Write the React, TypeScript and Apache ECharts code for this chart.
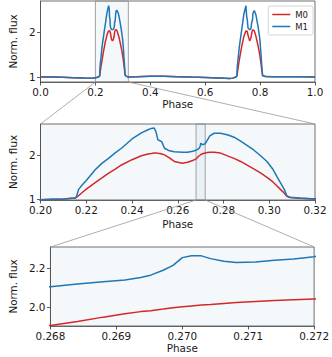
import React, { useEffect, useRef } from "react";
import * as echarts from "echarts";

// Phase grid (shared by both models) and normalised flux of each model
const phase = [
  0.0, 0.04, 0.08, 0.12, 0.16, 0.19, 0.2, 0.205, 0.21, 0.2152,
  0.2158, 0.2166, 0.2181, 0.22, 0.2239, 0.2267, 0.23, 0.2325, 0.2354, 0.24,
  0.2441, 0.247, 0.2484, 0.2497, 0.2505, 0.2513, 0.2522, 0.253, 0.2542, 0.256,
  0.2585, 0.262, 0.2643, 0.2665, 0.268, 0.26841, 0.2688, 0.26913, 0.26937, 0.26952,
  0.26971, 0.26986, 0.27, 0.27014, 0.27029, 0.27043, 0.27063, 0.27082, 0.27111, 0.2714,
  0.27169, 0.272, 0.273, 0.274, 0.2759, 0.2787, 0.282, 0.2846, 0.2875, 0.2932,
  0.2962, 0.299, 0.3015, 0.3033, 0.305, 0.3066, 0.3077, 0.309, 0.3133, 0.32,
  0.35, 0.4, 0.45, 0.5, 0.55, 0.6, 0.65, 0.69, 0.7, 0.71,
  0.7152, 0.7166, 0.7239, 0.7325, 0.7412, 0.7484, 0.7497, 0.7513, 0.753, 0.756,
  0.762, 0.7665, 0.77, 0.772, 0.774, 0.7787, 0.7846, 0.7932, 0.799, 0.8033,
  0.8066, 0.809, 0.82, 0.85, 0.9, 0.95, 1.0,
];
const m0 = [
  1.0, 0.998, 0.993, 0.986, 0.976, 0.97, 0.982, 0.99, 0.998, 1.02,
  1.04, 1.07, 1.14, 1.22, 1.37, 1.47, 1.59, 1.67, 1.77, 1.89,
  1.98, 2.02, 2.03, 2.04, 2.04, 2.035, 2.03, 2.02, 2.0, 1.94,
  1.85, 1.81, 1.83, 1.87, 1.908, 1.928, 1.95, 1.967, 1.978, 1.983,
  1.991, 1.998, 2.003, 2.007, 2.011, 2.014, 2.019, 2.024, 2.029, 2.034,
  2.038, 2.042, 2.055, 2.06, 2.06, 2.04, 1.97, 1.92, 1.85, 1.68,
  1.59, 1.49, 1.39, 1.3, 1.21, 1.13, 1.06, 1.03, 1.015, 0.998,
  1.003, 1.015, 1.015, 1.008, 0.998, 0.99, 0.978, 0.968, 0.975, 0.995,
  1.02, 1.07, 1.37, 1.67, 1.92, 2.03, 2.04, 2.035, 2.02, 1.94,
  1.81, 1.87, 2.0, 2.042, 2.06, 2.04, 1.92, 1.68, 1.49, 1.3,
  1.13, 1.03, 1.01, 1.003, 1.008, 1.005, 1.0,
];
const m1 = [
  1.0, 0.998, 0.993, 0.986, 0.976, 0.97, 0.982, 0.99, 0.998, 1.02,
  1.06, 1.21, 1.31, 1.42, 1.66, 1.8, 1.93, 2.04, 2.15, 2.36,
  2.5, 2.57, 2.6, 2.61, 2.52, 2.34, 2.32, 2.3, 2.15, 2.1,
  2.07, 2.06, 2.06, 2.08, 2.104, 2.118, 2.129, 2.138, 2.151, 2.163,
  2.188, 2.213, 2.252, 2.262, 2.261, 2.247, 2.234, 2.227, 2.23, 2.239,
  2.245, 2.257, 2.34, 2.43, 2.49, 2.49, 2.45, 2.4, 2.31, 2.11,
  1.98, 1.85, 1.68, 1.51, 1.36, 1.21, 1.07, 1.04, 1.02, 1.0,
  1.003, 1.015, 1.015, 1.008, 0.998, 0.99, 0.978, 0.968, 0.975, 0.995,
  1.02, 1.21, 1.66, 2.04, 2.42, 2.6, 2.61, 2.34, 2.3, 2.1,
  2.06, 2.08, 2.25, 2.26, 2.43, 2.49, 2.4, 2.11, 1.85, 1.51,
  1.21, 1.04, 1.01, 1.003, 1.008, 1.005, 1.0,
];

// Tick values per panel
const topXTicks = [0.0, 0.2, 0.4, 0.6, 0.8, 1.0];
const midXTicks = [0.2, 0.22, 0.24, 0.26, 0.28, 0.3, 0.32];
const botXTicks = [0.268, 0.269, 0.27, 0.271, 0.272];
const topYTicks = [1, 2];
const midYTicks = [1, 2];
const botYTicks = [2.0, 2.2];

// Axis windows
const topX = [0.0, 1.0];
const topY = [0.888, 2.705];
const midX = [0.2, 0.32];
const midY = [0.975, 2.7];
const botX = [0.268, 0.272];
const botY = [1.905, 2.306];

const RED = "#d62728";
const BLUE = "#1f77b4";
const FONT = "DejaVu Sans";
const SPINE = "#4d4d4d";
const SHADE = "rgba(31,119,180,0.05)";

export default function App() {
  const ref = useRef<HTMLDivElement>(null);

  useEffect(() => {
    if (!ref.current) return;
    const chart = echarts.init(ref.current, null, { renderer: "svg" });

    const grids = [
      { left: 38, top: 1, width: 277, height: 81, backgroundColor: "#ffffff" },
      { left: 38, top: 124, width: 277, height: 76, backgroundColor: SHADE },
      { left: 38, top: 247, width: 277, height: 79, backgroundColor: SHADE },
    ].map((g) => ({ ...g, show: true, borderColor: SPINE, borderWidth: 0.8 }));

    const xAx = (gi: number, range: number[], ticks: number[], dec: number, gap: number) => ({
      type: "value",
      gridIndex: gi,
      min: range[0],
      max: range[1],
      name: "Phase",
      nameLocation: "middle",
      nameGap: gap,
      nameTextStyle: { fontFamily: FONT, fontSize: 10.4, color: "#1a1a1a" },
      axisLine: { show: true, onZero: false, lineStyle: { color: SPINE, width: 0.8 } },
      axisTick: { show: true, customValues: ticks, length: 3.5, lineStyle: { color: "#333", width: 0.8 } },
      axisLabel: {
        customValues: ticks,
        formatter: (v: number) => v.toFixed(dec),
        fontFamily: FONT,
        fontSize: 10.4,
        color: "#1a1a1a",
        margin: 5,
        showMinLabel: true,
        showMaxLabel: true,
      },
      splitLine: { show: false },
    });
    const yAx = (gi: number, range: number[], ticks: number[], dec: number) => ({
      type: "value",
      gridIndex: gi,
      min: range[0],
      max: range[1],
      name: "Norm. flux",
      nameLocation: "middle",
      nameRotate: 90,
      nameGap: dec > 0 ? 24 : 16,
      nameTextStyle: { fontFamily: FONT, fontSize: 10.4, color: "#1a1a1a" },
      axisLine: { show: true, onZero: false, lineStyle: { color: SPINE, width: 0.8 } },
      axisTick: { show: true, customValues: ticks, length: 3.5, lineStyle: { color: "#333", width: 0.8 } },
      axisLabel: {
        customValues: ticks,
        formatter: (v: number) => v.toFixed(dec),
        fontFamily: FONT,
        fontSize: 10.4,
        color: "#1a1a1a",
        margin: 5,
      },
      splitLine: { show: false },
    });

    const line = (name: string, ys: number[], color: string, gi: number, extra: any = {}) => ({
      type: "line",
      name,
      xAxisIndex: gi,
      yAxisIndex: gi,
      data: phase.map((p, i) => [p, ys[i]]),
      symbol: "none",
      showSymbol: false,
      clip: true,
      silent: true,
      lineStyle: { color, width: 1.5 },
      itemStyle: { color },
      ...extra,
    });

    const band = (x0: number, x1: number) => ({
      silent: true,
      itemStyle: { color: SHADE, borderColor: "#8c8c8c", borderWidth: 0.8 },
      data: [[{ xAxis: x0 }, { xAxis: x1 }]],
    });

    chart.setOption({
      animation: false,
      grid: grids,
      xAxis: [
        xAx(0, topX, topXTicks, 1, 17),
        xAx(1, midX, midXTicks, 2, 19),
        xAx(2, botX, botXTicks, 3, 17),
      ],
      yAxis: [yAx(0, topY, topYTicks, 0), yAx(1, midY, midYTicks, 0), yAx(2, botY, botYTicks, 1)],
      legend: {
        data: ["M0", "M1"],
        orient: "vertical",
        right: 19,
        top: 6,
        icon: "rect",
        itemWidth: 18,
        itemHeight: 1.5,
        itemGap: 3,
        itemStyle: { borderWidth: 0 },
        textStyle: { fontFamily: FONT, fontSize: 8.5, color: "#1a1a1a" },
        backgroundColor: "rgba(255,255,255,0.85)",
        borderColor: "#cccccc",
        borderWidth: 0.8,
        borderRadius: 2,
        padding: [4, 5, 4, 4],
      },
      series: [
        line("M0", m0, RED, 0, { markArea: band(midX[0], midX[1]) }),
        line("M1", m1, BLUE, 0),
        line("M0", m0, RED, 1, { markArea: band(botX[0], botX[1]) }),
        line("M1", m1, BLUE, 1),
        line("M0", m0, RED, 2),
        line("M1", m1, BLUE, 2),
      ],
    });

    const px = (gi: number, x: number, y: number) =>
      chart.convertToPixel({ gridIndex: gi } as any, [x, y]) as number[];
    const conn = (a: number[], b: number[]) => ({
      type: "line",
      silent: true,
      z: 1,
      shape: { x1: a[0], y1: a[1], x2: b[0], y2: b[1] },
      style: { stroke: "#999999", lineWidth: 0.8 },
    });
    chart.setOption({
      graphic: [
        conn(px(0, midX[0], topY[0]), px(1, midX[0], midY[1])),
        conn(px(0, midX[1], topY[0]), px(1, midX[1], midY[1])),
        conn(px(1, botX[0], midY[0]), px(2, botX[0], botY[1])),
        conn(px(1, botX[1], midY[0]), px(2, botX[1], botY[1])),
      ],
    });

    return () => chart.dispose();
  }, []);

  return (
    <div
      ref={ref}
      style={{ position: "fixed", left: 0, top: 0, width: 332, height: 357, background: "#fff" }}
    />
  );
}
